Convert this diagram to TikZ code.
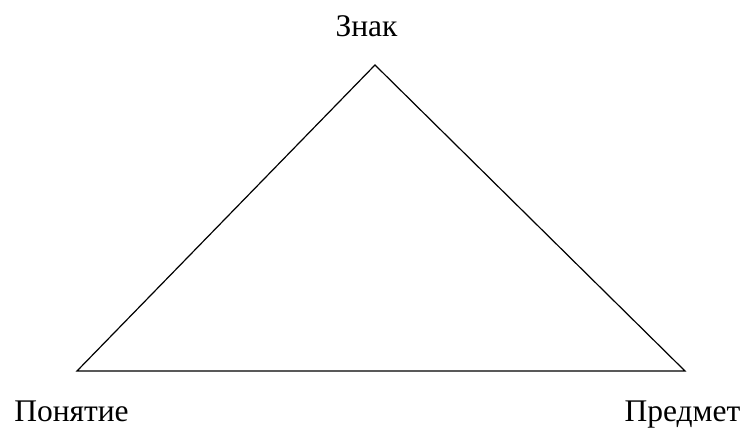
\documentclass[tikz,border=0pt]{standalone}
\usepackage{fontspec}
\setmainfont{Liberation Serif}
\begin{document}
\begin{tikzpicture}[x=1pt,y=1pt,
  lbl/.style={font=\fontsize{31.5}{36}\selectfont, inner sep=0pt, anchor=base},
  edge/.style={line width=1.2pt, black}]
\useasboundingbox (0,0) rectangle (740,429);
\coordinate (top) at (375,364);
\coordinate (left) at (77,58);
\coordinate (right) at (685,58);
\draw[edge, line join=miter] (top) -- (right) -- (left) -- cycle;
\node[lbl] (znak) at (366.5,392) {Знак};
\node[lbl] (ponyatie) at (71.5,7) {Понятие};
\node[lbl] (predmet) at (682.5,7) {Предмет};
\end{tikzpicture}
\end{document}
